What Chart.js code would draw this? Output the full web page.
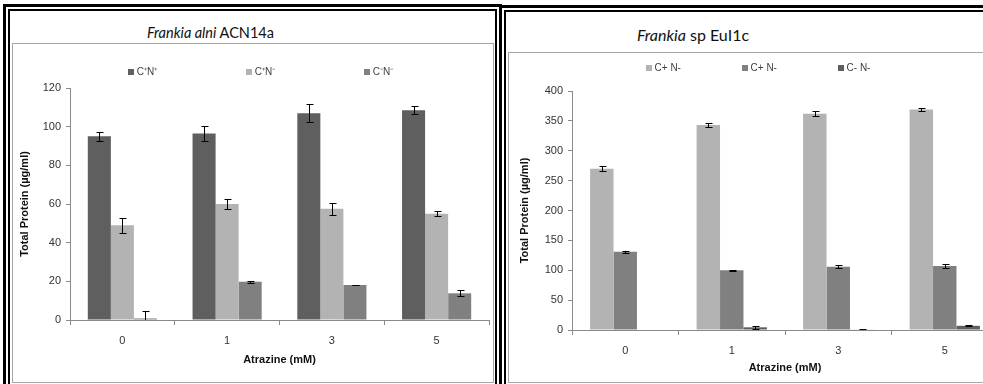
<!DOCTYPE html>
<html>
<head>
<meta charset="utf-8">
<script src="https://cdn.jsdelivr.net/npm/chart.js@4.4.1/dist/chart.umd.min.js"></script>
<style>
  html, body { margin:0; padding:0; background:#fff; }
  body { width:983px; height:384px; overflow:hidden; position:relative; }
  .frame { position:absolute; border:3px solid #000; box-sizing:border-box; }
  .frame-in { position:absolute; left:2px; top:2px; right:2px; bottom:2px; border:2px solid #000; }
  .title { position:absolute; font-family:Lato, "Open Sans", sans-serif; color:#111; white-space:nowrap; line-height:20px; }
  .plotbox { position:absolute; border:1px solid #a6a6a6; box-sizing:border-box; }
  canvas { position:absolute; }
</style>
</head>
<body>
<div class="frame" style="left:499px;top:5px;width:520px;height:400px"><div class="frame-in"></div></div>
<div class="frame" style="left:3px;top:4px;width:499px;height:400px"><div class="frame-in"></div></div>

<div class="title" style="left:147px;top:23px;font-size:14.5px"><i>Frankia alni</i> ACN14a</div>
<div class="title" style="left:637px;top:25px;font-size:16px"><i>Frankia</i> sp EuI1c</div>

<div class="plotbox" style="left:12px;top:43px;width:482px;height:340px"></div>
<div class="plotbox" style="left:508px;top:52px;width:500px;height:331px"></div>

<canvas id="alniChart" width="479" height="337" style="left:13px;top:44px"></canvas>
<canvas id="euChart" width="492" height="328" style="left:509px;top:53px"></canvas>

<script>
// atrazine doses (mM)
const doses = ['0', '1', '3', '5']

// Frankia alni ACN14a
const alniLabels = ['C\u207AN\u207A', 'C\u207AN\u207B', 'C\u207BN\u207B']
const alniCpNp = [95, 96.5, 107, 108.5]
const alniCpNpErr = [2.5, 4, 4.5, 2.2]
const alniCpNm = [49, 60, 57.5, 55]
const alniCpNmErr = [4, 2.7, 3.2, 1.4]
const alniCmNm = [0.8, 19.8, 18.1, 13.8]
const alniCmNmErr = [3.8, 0.5, 0.2, 1.5]
const alniMax = 120
const alniStep = 20

// Frankia sp EuI1c
const euLabels = ['C+ N-', 'C+ N-', 'C- N-']
const euCpNm = [270, 343, 362, 369]
const euCpNmErr = [4, 3, 4, 3]
const euCpNm2 = [131, 100, 106, 107]
const euCpNm2Err = [1.5, 1, 3, 3]
const euCmNm = [0, 4.5, 1, 7]
const euCmNmErr = [0, 2, 0.5, 1]
const euMax = 400
const euStep = 50

const DARK = '#5f5f5f'
const LIGHT = '#b3b3b3'
const MID = '#808080'
const AXIS = '#8a8a8a'
const FONT = '"Liberation Sans", Arial, sans-serif'

// error bars, drawn from the y scale
const errorBars = {
    id: 'errorBars',
    afterDatasetsDraw(chart){
        const ctx = chart.ctx
        const y = chart.scales.y
        const area = chart.chartArea
        ctx.save()
        ctx.beginPath()
        ctx.rect(area.left, area.top - 20, area.right - area.left, area.bottom - area.top + 20)
        ctx.clip()
        ctx.strokeStyle = '#000'
        ctx.lineWidth = 1
        chart.data.datasets.forEach(function(ds, i){
            const meta = chart.getDatasetMeta(i)
            meta.data.forEach(function(bar, j){
                const e = ds.errors[j]
                if (!e) return
                const v = ds.data[j]
                const top = Math.round(y.getPixelForValue(v + e)) + 0.5
                const bot = Math.round(y.getPixelForValue(v - e)) + 0.5
                const x = Math.round(bar.x) + 0.5
                ctx.beginPath()
                ctx.moveTo(x, top); ctx.lineTo(x, bot)
                ctx.moveTo(x - 3, top); ctx.lineTo(x + 4, top)
                ctx.moveTo(x - 3, bot); ctx.lineTo(x + 4, bot)
                ctx.stroke()
            })
        })
        ctx.restore()
    }
}

// excel style legend: small squares, wide spacing
const sketchLegend = {
    id: 'sketchLegend',
    afterDraw(chart, args, opts){
        const ctx = chart.ctx
        const ds = chart.data.datasets
        ctx.save()
        ctx.font = '10px ' + FONT
        ctx.textBaseline = 'middle'
        const lastW = ctx.measureText(ds[ds.length - 1].label).width
        const total = (ds.length - 1) * opts.spacing + 11 + lastW
        let x = (chart.width - total) / 2 + (opts.shift || 0)
        ds.forEach(function(d){
            ctx.fillStyle = d.backgroundColor
            ctx.fillRect(Math.round(x), Math.round(opts.y - 3), 6, 6)
            ctx.fillStyle = '#404040'
            ctx.fillText(d.label, x + 9, opts.y)
            x += opts.spacing
        })
        ctx.restore()
    }
}

const makeChart = (id, sets, cfg) =>{
    const ctx = document.getElementById(id).getContext('2d')
    const datasets = sets.map(function(s){
        return {
            label: s.label,
            data: s.data,
            errors: s.errors,
            backgroundColor: s.color,
            borderWidth: 0,
            categoryPercentage: 0.66,
            barPercentage: 1,
        }
    })
    return new Chart(ctx, {
        type: 'bar',
        data: { labels: doses, datasets: datasets },
        plugins: [errorBars, sketchLegend],
        options: {
            responsive: false,
            animation: false,
            events: [],
            layout: { padding: { top: cfg.top, right: 3, bottom: 0, left: 0 } },
            plugins: {
                legend: { display: false },
                tooltip: { enabled: false },
                sketchLegend: { y: cfg.legendY, spacing: cfg.spacing, shift: cfg.shift },
            },
            scales: {
                x: {
                    grid: { offset: true, drawOnChartArea: false, tickLength: 5, color: AXIS },
                    border: { color: AXIS },
                    ticks: { color: '#333', font: { family: FONT, size: 11 }, padding: cfg.xPad },
                    title: {
                        display: true, text: 'Atrazine (mM)', color: '#111',
                        font: { family: FONT, size: 11, weight: 'bold' },
                        padding: { top: 0, bottom: cfg.xTitlePad },
                    },
                    afterFit(s){ s.height = cfg.xHeight },
                },
                y: {
                    min: 0,
                    max: cfg.max,
                    ticks: { stepSize: cfg.step, color: '#333', font: { family: FONT, size: 11 }, padding: 5 },
                    grid: { drawOnChartArea: false, tickLength: 4, color: AXIS },
                    border: { color: AXIS },
                    title: {
                        display: true, text: 'Total Protein (\u00B5g/ml)', color: '#111',
                        font: { family: FONT, size: 11, weight: 'bold' },
                        padding: { top: cfg.yTitlePad, bottom: 0 },
                    },
                    afterFit(s){ s.width = cfg.yWidth },
                },
            },
        },
    })
}

makeChart('alniChart', [
    { label: alniLabels[0], data: alniCpNp, errors: alniCpNpErr, color: DARK },
    { label: alniLabels[1], data: alniCpNm, errors: alniCpNmErr, color: LIGHT },
    { label: alniLabels[2], data: alniCmNm, errors: alniCmNmErr, color: MID },
], { max: alniMax, step: alniStep, top: 44, xHeight: 61, xPad: 9, xTitlePad: 14,
     yWidth: 57, yTitlePad: 5, legendY: 28, spacing: 118, shift: 9 })

makeChart('euChart', [
    { label: euLabels[0], data: euCpNm, errors: euCpNmErr, color: LIGHT },
    { label: euLabels[1], data: euCpNm2, errors: euCpNm2Err, color: MID },
    { label: euLabels[2], data: euCmNm, errors: euCmNmErr, color: DARK },
], { max: euMax, step: euStep, top: 38, xHeight: 51, xPad: 9, xTitlePad: 6,
     yWidth: 63, yTitlePad: 9, legendY: 15, spacing: 96, shift: 4 })
</script>
</body>
</html>
